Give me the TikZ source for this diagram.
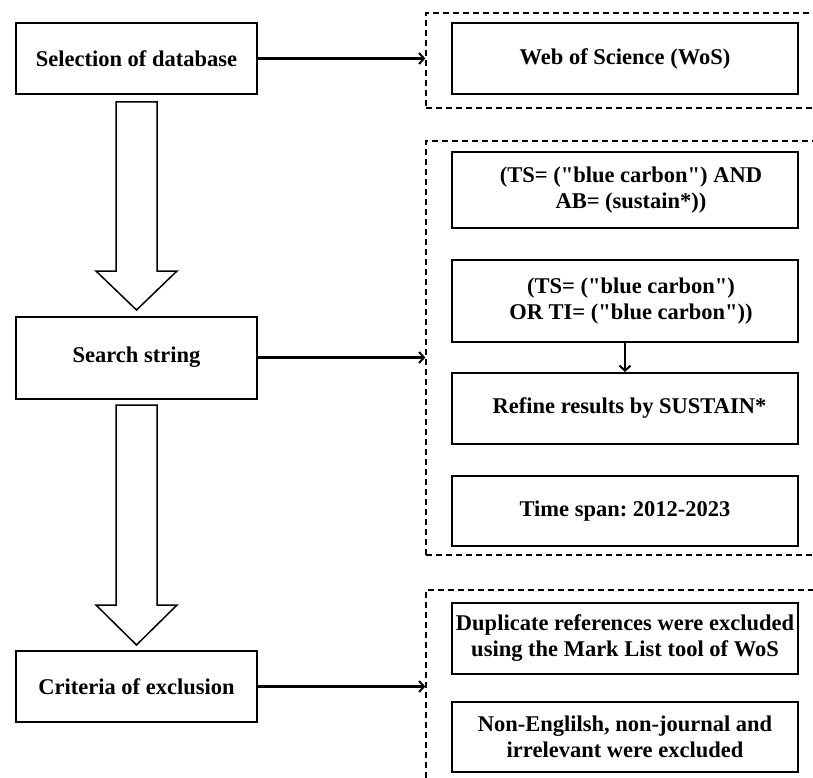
\documentclass[tikz,border=0pt]{standalone}
\usepackage{fontspec}
\setmainfont{Liberation Serif}[Ligatures=TeXOff]
\usetikzlibrary{arrows.meta}
\newcommand{\dq}{\char34\relax}
\begin{document}
\begin{tikzpicture}[x=1pt,y=-1pt,
  every node/.style={font=\bfseries\fontsize{22.5}{26}\selectfont\frenchspacing},
  box/.style={draw, line width=2pt, align=center, inner sep=0pt, minimum width=#1},
  lbox/.style={box=241pt},
  rbox/.style={box=346pt},
  grp/.style={draw, line width=1.3pt, dash pattern=on 6pt off 4pt, inner sep=0pt, minimum width=404pt},
  arr/.style={line width=2.2pt, -{Straight Barb[length=5pt,width=11pt,line width=2pt]}},
  blockarrow/.style={draw, line width=1.5pt, fill=white, line join=miter}
]
\clip (0,0) rectangle (813,778);
\fill[white] (0,0) rectangle (813,778);

% left column
\node[lbox, minimum height=71pt] (sel) at (136.5,58.5) {Selection of database};
\node[lbox, minimum height=82pt] (search) at (136.5,357.5) {Search string};
\node[lbox, minimum height=71pt] (crit) at (136.5,686.5) {Criteria of exclusion};

% block arrows
\draw[blockarrow] (116,102) -- (157,102) -- (157,271) -- (177,271) -- (136.5,310) -- (96,271) -- (116,271) -- cycle;
\draw[blockarrow] (116,405) -- (157,405) -- (157,605) -- (177,605) -- (136.5,645) -- (96,605) -- (116,605) -- cycle;

% group frames
\node[grp, minimum height=95pt] (g1) at (628,60.5) {};
\node[grp, minimum height=414pt] (g2) at (628,348) {};
\node[grp, minimum height=210pt] (g3) at (628,695) {};

% right column
\node[rbox, minimum height=71pt] (wos) at (625,58.5) {Web of Science (WoS)};
\node[rbox, minimum height=76pt] (ts1) at (625,190) {\hspace*{12pt}(TS= (\dq blue carbon\dq) AND\\\hspace*{12pt}AB= (sustain*))};
\node[rbox, minimum height=82pt] (ts2) at (625,301) {\hspace*{12pt}(TS= (\dq blue carbon\dq)\\\hspace*{12pt}OR TI= (\dq blue carbon\dq))};
\node[rbox, minimum height=71pt] (refine) at (625,408.5) {\hspace*{9pt}Refine results by SUSTAIN*};
\node[rbox, minimum height=70pt] (time) at (625,511) {Time span: 2012-2023};
\node[rbox, minimum height=71pt] (dup) at (625,638.5) {Duplicate references were excluded\\using the Mark List tool of WoS};
\node[rbox, minimum height=70pt] (non) at (625,737) {Non-Englilsh, non-journal and\\irrelevant were excluded};

% connectors
\draw[arr] (sel.east) -- (sel.east -| g1.west);
\draw[arr] (search.east) -- (search.east -| g2.west);
\draw[arr] (crit.east) -- (crit.east -| g3.west);
\draw[arr] (ts2.south) -- (refine.north);
\end{tikzpicture}
\end{document}
